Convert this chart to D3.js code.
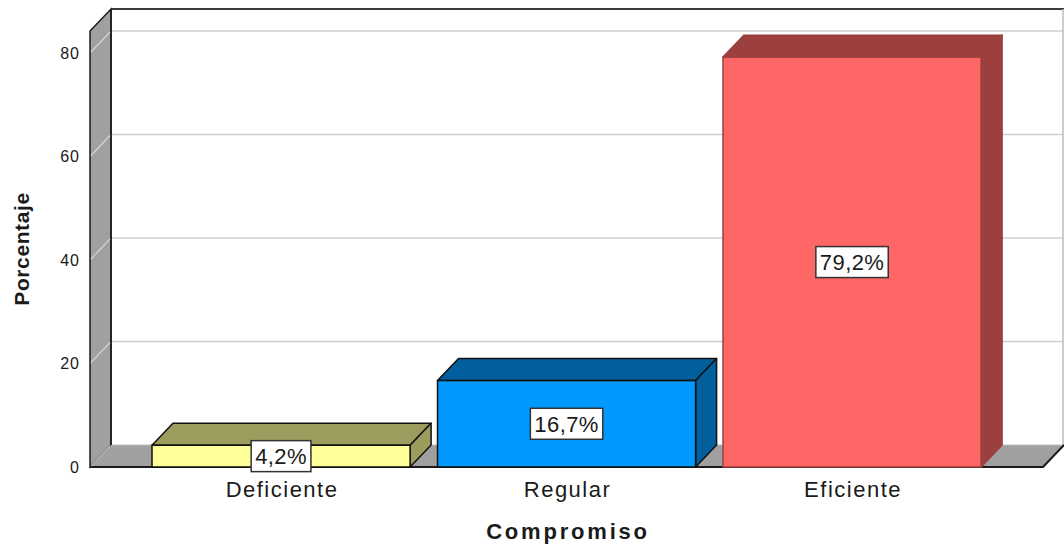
<!DOCTYPE html>
<html>
<head>
<meta charset="utf-8">
<script src="https://cdn.jsdelivr.net/npm/d3@7"></script>
<style>
  html, body { margin: 0; padding: 0; background: #ffffff; }
  svg { display: block; }
  text { font-family: "Liberation Sans", Arial, sans-serif; fill: #1a1a1a; }
</style>
</head>
<body>
<svg id="chart" width="1064" height="550"></svg>
<script>
// Compromiso: percentage per category
const categories = ["Deficiente", "Regular", "Eficiente"];
const values = [4.2, 16.7, 79.2];
const valueLabels = ["4,2%", "16,7%", "79,2%"];
const yTicks = [0, 20, 40, 60, 80];

const frontColors = ["#ffff99", "#0099ff", "#ff6666"];
const shadeColors = ["#9c9c5e", "#005f9c", "#9b3f3f"];
const edgeColors  = ["#111111", "#111111", "#9b3f3f"];

const W = 1064, H = 550;
const depthX = 21, depthY = 22;          // oblique depth offset of the 3D box
const floorLeft = 90, floorRight = 1043;  // front edge of the floor
const baseY = 467, topY = 31;

const svg = d3.select("#chart");

const y = d3.scaleLinear().domain([0, 84.25]).range([baseY, topY]);
const x = d3.scaleBand().domain(categories)
  .range([138.3, 994.8]).paddingInner(0.096).paddingOuter(0.048);

const poly = pts => pts.map(p => p.join(",")).join(" ");

// back wall gridlines
svg.append("g").selectAll("line")
  .data(yTicks.filter(t => t > 0))
  .join("line")
  .attr("x1", floorLeft + depthX).attr("x2", floorRight + depthX - 1)
  .attr("y1", d => y(d) - depthY).attr("y2", d => y(d) - depthY)
  .attr("stroke", "#cfcfcf").attr("stroke-width", 1.5);

// back wall top and right edges
svg.append("line")
  .attr("x1", floorLeft + depthX).attr("x2", W)
  .attr("y1", topY - depthY).attr("y2", topY - depthY)
  .attr("stroke", "#3a3a3a").attr("stroke-width", 2);
svg.append("line")
  .attr("x1", floorRight + depthX - 1).attr("x2", floorRight + depthX - 1)
  .attr("y1", topY - depthY).attr("y2", baseY - depthY)
  .attr("stroke", "#bdbdbd").attr("stroke-width", 1.5);

// left side wall
svg.append("polygon")
  .attr("points", poly([[floorLeft, baseY], [floorLeft, topY], [floorLeft + depthX, topY - depthY], [floorLeft + depthX, baseY - depthY]]))
  .attr("fill", "#a0a0a0").attr("stroke", "#1a1a1a").attr("stroke-width", 1.5);

// floor
svg.append("polygon")
  .attr("points", poly([[floorLeft, baseY], [floorRight, baseY], [floorRight + depthX, baseY - depthY], [floorLeft + depthX, baseY - depthY]]))
  .attr("fill", "#a0a0a0").attr("stroke", "none");
svg.append("line")
  .attr("x1", floorLeft + depthX).attr("x2", floorRight + depthX)
  .attr("y1", baseY - depthY).attr("y2", baseY - depthY)
  .attr("stroke", "#bdbdbd").attr("stroke-width", 1);
svg.append("polyline")
  .attr("points", poly([[floorLeft, baseY], [floorRight, baseY], [floorRight + depthX, baseY - depthY]]))
  .attr("fill", "none").attr("stroke", "#1a1a1a").attr("stroke-width", 2);
svg.append("line")
  .attr("x1", floorLeft + depthX).attr("x2", floorLeft + depthX)
  .attr("y1", topY - depthY).attr("y2", baseY - depthY)
  .attr("stroke", "#1a1a1a").attr("stroke-width", 1.5);

// gridlines running across the side wall
svg.append("g").selectAll("line")
  .data(yTicks)
  .join("line")
  .attr("x1", floorLeft + 1).attr("x2", floorLeft + depthX - 1)
  .attr("y1", d => y(d) - 1).attr("y2", d => y(d) - depthY + 1)
  .attr("stroke", d => d === 0 ? "#b8b8b8" : "#d4d4d4").attr("stroke-width", 1.2);

// y tick labels
svg.append("g").selectAll("text")
  .data(yTicks)
  .join("text")
  .attr("x", 80).attr("y", d => y(d))
  .attr("dy", "0.36em")
  .attr("text-anchor", "end")
  .style("font-size", "16px").style("letter-spacing", "1px")
  .text(d => d);

// bars
const bars = svg.append("g").selectAll("g")
  .data(categories.map((c, i) => ({ c, v: values[i], i })))
  .join("g");

bars.append("polygon") // top face
  .attr("points", d => {
    const x0 = x(d.c), x1 = x0 + x.bandwidth(), yt = y(d.v);
    return poly([[x0, yt], [x1, yt], [x1 + depthX, yt - depthY], [x0 + depthX, yt - depthY]]);
  })
  .attr("fill", d => shadeColors[d.i]).attr("stroke", d => edgeColors[d.i])
  .attr("stroke-width", 1.5).attr("stroke-linejoin", "round");

bars.append("polygon") // side face
  .attr("points", d => {
    const x1 = x(d.c) + x.bandwidth(), yt = y(d.v), yb = y(0);
    return poly([[x1, yt], [x1 + depthX, yt - depthY], [x1 + depthX, yb - depthY], [x1, yb]]);
  })
  .attr("fill", d => shadeColors[d.i]).attr("stroke", d => edgeColors[d.i])
  .attr("stroke-width", 1.5).attr("stroke-linejoin", "round");

bars.append("rect") // front face
  .attr("x", d => x(d.c)).attr("y", d => y(d.v))
  .attr("width", x.bandwidth()).attr("height", d => y(0) - y(d.v))
  .attr("fill", d => frontColors[d.i]).attr("stroke", d => edgeColors[d.i])
  .attr("stroke-width", 1.5);

// value labels in boxes
const labels = bars.append("g")
  .attr("transform", d => `translate(${x(d.c) + x.bandwidth() / 2},${(y(d.v) + y(0)) / 2})`);
labels.append("text")
  .attr("text-anchor", "middle").attr("dy", "0.36em")
  .style("font-size", "22px").style("letter-spacing", "0.4px")
  .text(d => valueLabels[d.i]);
labels.each(function () {
  const g = d3.select(this);
  const b = g.select("text").node().getBBox();
  g.insert("rect", "text")
    .attr("x", b.x - 4).attr("y", -15.5)
    .attr("width", b.width + 8).attr("height", 31)
    .attr("fill", "#ffffff").attr("stroke", "#333333").attr("stroke-width", 1.5);
});

// category labels
svg.append("g").selectAll("text")
  .data(categories)
  .join("text")
  .attr("x", d => x(d) + x.bandwidth() / 2 + 1)
  .attr("y", 497)
  .attr("text-anchor", "middle")
  .style("font-size", "22px").style("letter-spacing", "1.5px")
  .text(d => d);

// axis titles
svg.append("text")
  .attr("x", 568).attr("y", 539)
  .attr("text-anchor", "middle")
  .style("font-size", "22px").style("font-weight", "bold").style("letter-spacing", "2.8px")
  .text("Compromiso");

svg.append("text")
  .attr("transform", "translate(29,249) rotate(-90)")
  .attr("text-anchor", "middle")
  .style("font-size", "21px").style("font-weight", "bold").style("letter-spacing", "0.6px")
  .text("Porcentaje");
</script>
</body>
</html>
